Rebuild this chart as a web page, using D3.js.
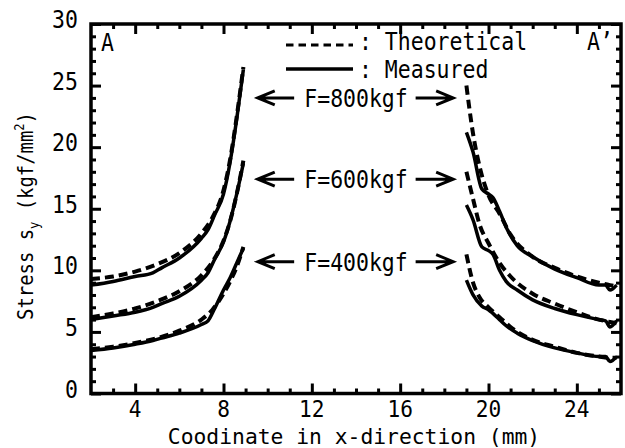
<!doctype html>
<meta charset="utf-8">

<style>
    body {
        margin: 0;
        background: #fff;
    }

    svg text {
        font-family: "DejaVu Sans Mono", monospace;
        fill: #000;
    }
</style>

<div id="chart"></div>

<script src="https://d3js.org/d3.v7.min.js"></script>

<script>

// load cases, top to bottom
let loads = ["F=800kgf", "F=600kgf", "F=400kgf"]
let loadArrowAt = [24, 17.4, 10.7]

// left side of the hole (A), x in mm
let leftX = [2, 3, 4, 5, 6, 7, 7.5, 8, 8.3, 8.6, 8.9]
let theoLeft800 = [9.3, 9.5, 9.9, 10.5, 11.4, 13.0, 14.3, 16.5, 19.0, 22.5, 26.5]
let theoLeft600 = [6.2, 6.5, 6.9, 7.5, 8.3, 9.6, 10.7, 12.4, 14.0, 16.2, 18.9]
let theoLeft400 = [3.6, 3.8, 4.1, 4.5, 5.1, 6.0, 6.8, 8.1, 9.1, 10.3, 11.9]

let measLeftX = [2, 3, 4, 4.8, 5.2, 6, 7, 7.3, 7.6, 8, 8.3, 8.6, 8.9]
let measLeft800 = [8.8, 9.1, 9.5, 9.8, 10.2, 11.0, 12.6, 13.3, 14.5, 16.2, 18.8, 22.3, 26.3]
let measLeft600 = [6.0, 6.3, 6.6, 7.0, 7.3, 7.9, 9.2, 9.8, 10.9, 12.3, 14.0, 16.2, 18.7]
let measLeft400 = [3.5, 3.7, 4.0, 4.3, 4.5, 4.9, 5.6, 5.9, 6.9, 8.4, 9.4, 10.6, 11.8]

// right side of the hole (A')
let rightX = [19.0, 19.3, 19.6, 20.0, 20.5, 21.0, 22.0, 23.0, 24.0, 25.0, 25.5, 25.8]
let theoRight800 = [25.0, 21.1, 18.4, 16.1, 14.6, 12.9, 11.1, 10.2, 9.5, 9.0, 8.8, 8.7]
let theoRight600 = [18.0, 15.8, 13.7, 12.2, 10.6, 9.5, 8.1, 7.3, 6.6, 6.0, 5.8, 5.7]
let theoRight400 = [11.3, 9.0, 7.8, 7.0, 6.2, 5.4, 4.35, 3.8, 3.3, 3.0, 2.9, 2.9]

let measRightX = [19.0, 19.3, 19.7, 20.0, 20.2, 20.5, 20.8, 21.3, 22.0, 23.0, 24.0, 25.0, 25.3, 25.5, 25.8]
let measRight800 = [21.2, 19.6, 16.6, 16.2, 15.9, 14.8, 13.5, 12.0, 11.1, 10.1, 9.4, 8.8, 8.8, 8.4, 8.8]
let measRight600 = [15.3, 14.1, 11.9, 11.6, 11.3, 10.0, 9.1, 8.4, 7.6, 6.9, 6.4, 6.0, 5.9, 5.4, 5.9]
let measRight400 = [9.2, 8.0, 7.1, 6.8, 6.5, 6.0, 5.5, 4.9, 4.3, 3.7, 3.3, 3.0, 3.0, 2.6, 3.0]

let xMajor = [4, 8, 12, 16, 20, 24]
let yMajor = [0, 5, 10, 15, 20, 25, 30]

let width = 625
let height = 448
let margin = {top: 24, right: 4, bottom: 54.5, left: 91}
let squeeze = 0.86   // narrow the mono font

let svg = d3.select("#chart")
    .append("svg")
    .attr("width", width)
    .attr("height", height)

let xScale = d3.scaleLinear().domain([2, 26]).range([margin.left, width - margin.right])
let yScale = d3.scaleLinear().domain([0, 30]).range([height - margin.bottom, margin.top])

let xMinor = d3.range(3, 26).filter(d => d % 4 != 0)
let yMinor = d3.range(1, 30).filter(d => d % 5 != 0)

function drawAxis(axis, transform, ticks, size){
    let g = svg.append("g")
        .attr("transform", transform)
        .call(axis.tickValues(ticks).tickSize(-size).tickFormat(""))
    g.select(".domain").remove()
    g.selectAll("line").attr("stroke-width", 3)
    return g
}

let bottomY = yScale(0)
let topY = yScale(30)
let leftX0 = xScale(2)
let rightX0 = xScale(26)

drawAxis(d3.axisBottom(xScale), `translate(0,${bottomY})`, xMajor, 10)
drawAxis(d3.axisBottom(xScale), `translate(0,${bottomY})`, xMinor, 5)
drawAxis(d3.axisTop(xScale), `translate(0,${topY})`, xMajor, 10)
drawAxis(d3.axisTop(xScale), `translate(0,${topY})`, xMinor, 5)
drawAxis(d3.axisLeft(yScale), `translate(${leftX0},0)`, yMajor, 10)
drawAxis(d3.axisLeft(yScale), `translate(${leftX0},0)`, yMinor, 5)
drawAxis(d3.axisRight(yScale), `translate(${rightX0},0)`, yMajor, 10)
drawAxis(d3.axisRight(yScale), `translate(${rightX0},0)`, yMinor, 5)

svg.append("rect")
    .attr("x", leftX0)
    .attr("y", topY)
    .attr("width", rightX0 - leftX0)
    .attr("height", bottomY - topY)
    .attr("fill", "none")
    .attr("stroke", "#000")
    .attr("stroke-width", 3.5)

// text in the narrowed mono font
function label(x, y, text, size, anchor, sx){
    return svg.append("text")
        .attr("transform", `translate(${x},${y}) scale(${sx || squeeze},1)`)
        .attr("font-size", size)
        .attr("text-anchor", anchor || "start")
        .text(text)
}

xMajor.forEach(d => label(xScale(d), 417, d, 23, "middle", 0.92))
yMajor.forEach(d => label(78, yScale(d) + 4, d, 25, "end"))

label(354, 444, "Coodinate in x-direction (mm)", 22, "middle", 0.97)

// y title with sub/superscripts
let yTitle = svg.append("text")
    .attr("transform", `translate(33,216) rotate(-90) scale(${squeeze},1)`)
    .attr("font-size", 22)
    .attr("text-anchor", "middle")
yTitle.append("tspan").text("Stress s")
yTitle.append("tspan").attr("font-size", 14).attr("dy", 6).text("y")
yTitle.append("tspan").attr("dy", -6).text(" (kgf/mm")
yTitle.append("tspan").attr("font-size", 14).attr("dy", -9).text("2")
yTitle.append("tspan").attr("dy", 9).text(")")

label(101, 51, "A", 25)
label(613, 50, "A\u2019", 25, "end")

// legend
let legend = svg.append("g")
legend.append("line")
    .attr("x1", 286).attr("x2", 353).attr("y1", 45).attr("y2", 45)
    .attr("stroke", "#000").attr("stroke-width", 3).attr("stroke-dasharray", "7.5,5")
legend.append("line")
    .attr("x1", 286).attr("x2", 353).attr("y1", 69).attr("y2", 69)
    .attr("stroke", "#000").attr("stroke-width", 3.5)
label(359, 50, ": Theoretical", 25)
label(359, 78, ": Measured", 25)

// curves
let line = d3.line()
    .x(d => xScale(d[0]))
    .y(d => yScale(d[1]))
    .curve(d3.curveMonotoneX)

let theoretical = [
    [leftX, theoLeft800], [leftX, theoLeft600], [leftX, theoLeft400],
    [rightX, theoRight800], [rightX, theoRight600], [rightX, theoRight400]
]
let measured = [
    [measLeftX, measLeft800], [measLeftX, measLeft600], [measLeftX, measLeft400],
    [measRightX, measRight800], [measRightX, measRight600], [measRightX, measRight400]
]

svg.append("g").selectAll("path")
    .data(measured)
    .join("path")
    .attr("d", ([xs, ys]) => line(xs.map((x, i) => [x, ys[i]])))
    .attr("fill", "none")
    .attr("stroke", "#000")
    .attr("stroke-width", 3.5)

svg.append("g").selectAll("path")
    .data(theoretical)
    .join("path")
    .attr("d", ([xs, ys]) => line(xs.map((x, i) => [x, ys[i]])))
    .attr("fill", "none")
    .attr("stroke", "#000")
    .attr("stroke-width", 4)
    .attr("stroke-dasharray", "9,5")

// load arrows: "<- F=...kgf ->"
function arrow(x1, x2, y){
    let dir = x2 > x1 ? 1 : -1
    let head = 17
    return `M${x1},${y}L${x2},${y}` +
        `M${x2 - dir * head},${y - 7}L${x2},${y}L${x2 - dir * head},${y + 7}`
}

loads.forEach((name, i) => {
    let yc = yScale(loadArrowAt[i])
    svg.append("path")
        .attr("d", arrow(xScale(11.2), xScale(9.55), yc) + arrow(xScale(16.7), xScale(18.4), yc))
        .attr("fill", "none")
        .attr("stroke", "#000")
        .attr("stroke-width", 3)
    label(xScale(14), yc + 9, name, 25, "middle")
})

</script>
